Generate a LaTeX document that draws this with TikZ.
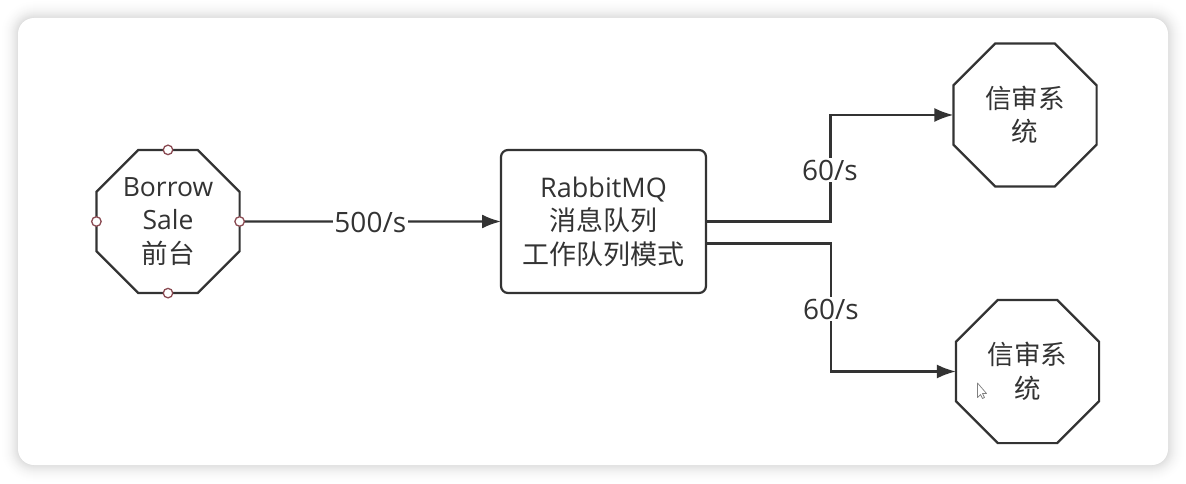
\documentclass[tikz,border=0pt]{standalone}
\usepackage{fontspec}
\setmainfont{Open Sans}
\newfontfamily\cjk{Noto Sans CJK SC}
\usetikzlibrary{positioning}
\usetikzlibrary{shapes.geometric}
\usetikzlibrary{arrows.meta}
\definecolor{inkgray}{HTML}{333333}
\definecolor{handlered}{HTML}{8A4A52}
\tikzset{
  octa/.style={draw=inkgray, line width=2.2pt, fill=white, regular polygon, regular polygon sides=8,
    minimum size=155pt, inner sep=0pt, outer sep=0pt, align=center, text=inkgray,
    font=\fontsize{26.5}{33.5}\selectfont},
  queuebox/.style={draw=inkgray, line width=2.2pt, fill=white, rounded corners=7pt, minimum width=205pt,
    minimum height=143pt, inner sep=0pt, outer sep=0pt, align=center, text=inkgray,
    font=\fontsize{27}{33.5}\selectfont},
  link/.style={draw=inkgray, line width=2.2pt, -{Latex[length=19pt,width=14pt]}},
  rate/.style={fill=white, inner sep=1.5pt, text=inkgray, font=\fontsize{28}{32}\selectfont},
  handle/.style={circle, draw=handlered, line width=1.3pt, fill=white, minimum size=9.5pt, inner sep=0pt}
}
\begin{document}
\begin{tikzpicture}[x=1pt,y=1pt]
\useasboundingbox (0,0) rectangle (1186,483);

% soft edge round the card
\fill[white] (0,0) rectangle (1186,483);
\foreach \g in {1,...,18}{
  \pgfmathsetmacro{\w}{\g*\g*0.04}
  \fill[black!\w!white, rounded corners=34pt-\g*1pt] (\g,\g) rectangle (1186-\g,483-\g);
}
\fill[white, rounded corners=16pt] (18,18) rectangle (1168,465);

\node[octa] (sale) at (168,261.5) {Borrow\\Sale\\{\cjk 前台}};
\node[queuebox, right=333pt of sale.center, anchor=center, xshift=102.5pt] (queue) {RabbitMQ\\{\cjk 消息队列}\\{\cjk 工作队列模式}};
\node[octa] (creditup) at (1025,368) {{\cjk 信审系}\\{\cjk 统}};
\node[octa] (creditdown) at (1027.5,111.5) {{\cjk 信审系}\\{\cjk 统}};

\coordinate (queuelow) at ([yshift=-22pt]queue.east);

\draw[link] (sale.east) -- (queue.west) node[rate, midway, yshift=-1pt] (ratein) {500/s};
\draw[link] (queue.east) -| ([xshift=-123pt]creditup.west) -- (creditup.west);
\draw[link] (queuelow) -| ([xshift=-125pt]creditdown.west) -- (creditdown.west);

\node[rate] (rateup) at (830,313) {60/s};
\node[rate] (ratedown) at (831,174) {60/s};

\node[handle] (handlen) at (sale.north) {};
\node[handle] (handles) at (sale.south) {};
\node[handle] (handlew) at (sale.west) {};
\node[handle] (handlee) at (sale.east) {};

% mouse pointer
\draw[gray, fill=white, line width=0.7pt, line join=round] (977.5,100) -- (977.5,85.5) -- (980.5,88.5) -- (982.5,84.5) -- (984.5,85.5) -- (982.5,89.5) -- (986.5,89.5) -- cycle;

\end{tikzpicture}
\end{document}
